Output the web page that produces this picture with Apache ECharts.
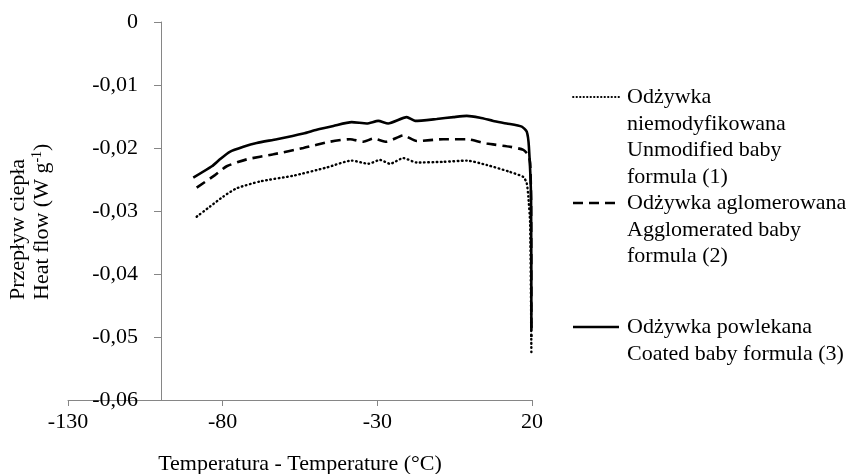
<!DOCTYPE html>
<html>
<head>
<meta charset="utf-8">
<script src="https://cdn.jsdelivr.net/npm/echarts@6/dist/echarts.min.js"></script>
<style>
  html, body { margin: 0; padding: 0; background: #fff; }
  #chart { width: 849px; height: 474px; }
</style>
</head>
<body>
<div id="chart"></div>
<script>
// x axis ticks (°C) and y axis ticks (W g-1)
var xTicks = [-130, -80, -30, 20];
var yTicks = [0, -0.01, -0.02, -0.03, -0.04, -0.05, -0.06];

// (1) unmodified baby formula - dotted
var tempUnmod = [-88.4, -84.1, -79.8, -75.5, -67.9, -57.2, -46.4, -38.3, -32.9, -29.1, -25.9, -21.6, -17.3, -8.7, -1.1, 5.4, 12.9, 17.2, 18.3, 18.8, 19.4, 19.8];
var flowUnmod = [-0.0309, -0.0293, -0.0277, -0.0264, -0.0253, -0.0244, -0.0231, -0.0220, -0.0225, -0.0219, -0.0225, -0.0216, -0.0223, -0.0222, -0.0220, -0.0227, -0.0238, -0.0246, -0.0256, -0.0277, -0.0320, -0.0524];

// (2) agglomerated baby formula - dashed
var tempAggl = [-88.4, -82.5, -78.7, -72.2, -63.6, -53.9, -45.3, -38.8, -34.5, -31.3, -27.0, -21.6, -17.3, -8.7, -1.1, 5.4, 12.9, 17.2, 18.8, 19.4, 19.7, 19.8];
var flowAggl = [-0.0263, -0.0243, -0.0229, -0.0218, -0.0210, -0.0200, -0.0190, -0.0186, -0.0190, -0.0185, -0.0190, -0.0180, -0.0189, -0.0186, -0.0186, -0.0193, -0.0198, -0.0203, -0.0211, -0.0224, -0.0280, -0.0500];

// (3) coated baby formula - solid
var tempCoat = [-89.5, -83.5, -80.9, -77.7, -73.3, -69.0, -62.5, -53.9, -49.6, -44.2, -38.3, -33.4, -29.7, -26.5, -20.5, -17.8, -10.8, -5.4, -1.1, 3.2, 7.5, 11.8, 16.7, 18.3, 19.0, 19.7, 19.8];
var flowCoat = [-0.0247, -0.0229, -0.0218, -0.0206, -0.0198, -0.0192, -0.0186, -0.0177, -0.0171, -0.0165, -0.0159, -0.0161, -0.0157, -0.0161, -0.0151, -0.0157, -0.0154, -0.0151, -0.0149, -0.0152, -0.0157, -0.0161, -0.0166, -0.0174, -0.0198, -0.0283, -0.0490];

var seriesNames = [
    'Odżywka\nniemodyfikowana\nUnmodified baby\nformula (1)',
    'Odżywka aglomerowana\nAgglomerated baby\nformula (2)',
    'Odżywka powlekana\nCoated baby formula (3)'
];

var FONT = '"Liberation Serif", "Times New Roman", serif';
var AXIS_GREY = '#868686';

function zip(xs, ys) {
    return xs.map(function (x, i) { return [x, ys[i]]; });
}

function fmtY(v) {
    if (Math.abs(v) < 1e-9) return '0';
    return v.toFixed(2).replace('.', ',');
}

var myChart = echarts.init(document.getElementById('chart'));

var option = {
    backgroundColor: '#fff',
    animation: false,
    grid: [
        { left: 68, right: 317, top: 22, bottom: 74, outerBoundsMode: 'none', containLabel: false },
        { left: 161, right: 317, top: 22, bottom: 74, outerBoundsMode: 'none', containLabel: false }
    ],
    xAxis: [{
        gridIndex: 0,
        type: 'value',
        min: xTicks[0],
        max: xTicks[xTicks.length - 1],
        interval: 50,
        name: 'Temperatura - Temperature (°C)',
        nameLocation: 'middle',
        nameGap: 53,
        nameTextStyle: { fontFamily: FONT, fontSize: 22, color: '#000' },
        axisLine: { onZero: false, lineStyle: { color: AXIS_GREY, width: 1 } },
        axisTick: { show: true, length: 6, lineStyle: { color: AXIS_GREY } },
        axisLabel: { fontFamily: FONT, fontSize: 22, color: '#000', margin: 11 },
        splitLine: { show: false }
    }, {
        gridIndex: 1,
        type: 'value',
        show: false
    }],
    yAxis: [{
        gridIndex: 0,
        type: 'value',
        min: -0.06,
        max: 0,
        show: false
    }, {
        gridIndex: 1,
        type: 'value',
        min: yTicks[yTicks.length - 1],
        max: yTicks[0],
        interval: 0.01,
        axisLine: { show: true, onZero: false, lineStyle: { color: AXIS_GREY, width: 1 } },
        axisTick: { show: true, length: 7, lineStyle: { color: AXIS_GREY } },
        axisLabel: { fontFamily: FONT, fontSize: 22, color: '#000', margin: 23, formatter: fmtY },
        splitLine: { show: false }
    }],
    series: [{
        name: seriesNames[0],
        type: 'line',
        data: zip(tempUnmod, flowUnmod),
        showSymbol: false,
        symbol: 'none',
        smooth: 0.2,
        lineStyle: { color: '#000', width: 2.4, type: [0.6, 3.6], cap: 'round' }
    }, {
        name: seriesNames[1],
        type: 'line',
        data: zip(tempAggl, flowAggl),
        showSymbol: false,
        symbol: 'none',
        smooth: 0.2,
        lineStyle: { color: '#000', width: 2.6, type: [10, 6] }
    }, {
        name: seriesNames[2],
        type: 'line',
        data: zip(tempCoat, flowCoat),
        showSymbol: false,
        symbol: 'none',
        smooth: 0.2,
        lineStyle: { color: '#000', width: 2.6, type: 'solid' }
    }],
    graphic: [
        // y axis title, two lines, rotated
        {
            type: 'text',
            x: 30,
            y: 300,
            rotation: Math.PI / 2,
            style: {
                text: 'Przepływ ciepła\nHeat flow (W g{sup|-1})',
                font: '22px ' + FONT,
                fill: '#000',
                align: 'left',
                verticalAlign: 'middle',
                lineHeight: 24,
                rich: {
                    sup: { fontSize: 14, fontFamily: FONT, verticalAlign: 'top', lineHeight: 24, padding: [0, 0, 6, 0] }
                }
            }
        },
        // legend
        { type: 'line', shape: { x1: 573, y1: 97, x2: 619, y2: 97 }, style: { stroke: '#000', lineWidth: 1.8, lineDash: [0.5, 3], lineCap: 'round' } },
        { type: 'text', x: 627, y: 97 - 13, style: { text: seriesNames[0], font: '22px ' + FONT, fill: '#000', lineHeight: 26.5, verticalAlign: 'top' } },
        { type: 'line', shape: { x1: 573, y1: 203, x2: 619, y2: 203 }, style: { stroke: '#000', lineWidth: 2.6, lineDash: [10, 6] } },
        { type: 'text', x: 627, y: 203 - 13, style: { text: seriesNames[1], font: '22px ' + FONT, fill: '#000', lineHeight: 26.5, verticalAlign: 'top' } },
        { type: 'line', shape: { x1: 573, y1: 327, x2: 619, y2: 327 }, style: { stroke: '#000', lineWidth: 2.6 } },
        { type: 'text', x: 627, y: 327 - 13, style: { text: seriesNames[2], font: '22px ' + FONT, fill: '#000', lineHeight: 26.5, verticalAlign: 'top' } }
    ]
};

myChart.setOption(option);
</script>
</body>
</html>
